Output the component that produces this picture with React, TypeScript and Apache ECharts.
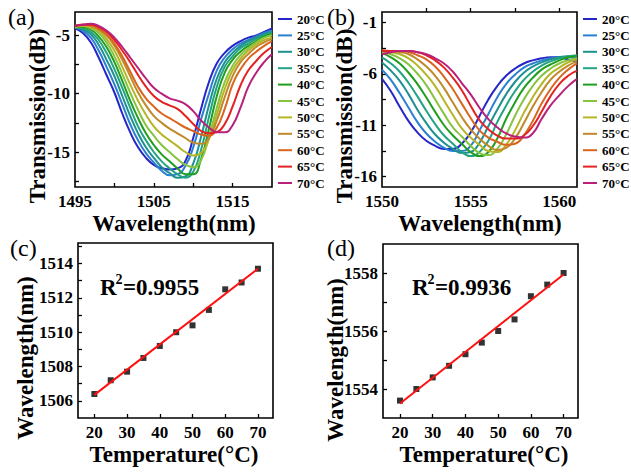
import React, { useEffect, useRef } from 'react';
import * as echarts from 'echarts';

const FONT = '"Liberation Serif", "Times New Roman", serif';

const temps = ['20°C', '25°C', '30°C', '35°C', '40°C', '45°C', '50°C', '55°C', '60°C', '65°C', '70°C'];
const colors = ['#2626c8', '#2a80d0', '#1e9090', '#22a384', '#1f9e1f', '#86c440', '#b5b526', '#c0892a', '#d9661f', '#e42222', '#b8207a'];

// Panel (a): wavelength grid 1495..1520 nm
const wlA = [1495, 1496, 1497, 1498, 1499, 1500, 1501, 1502, 1503, 1504, 1505, 1506, 1507, 1508, 1509, 1510, 1511, 1512, 1513, 1514, 1515, 1516, 1517, 1518, 1519, 1520];
const specA20 = [-4.4, -4.8, -5.6, -6.9, -8.4, -9.9, -11.7, -13.3, -14.6, -15.5, -16.1, -16.4, -16.5, -16.4, -15.8, -13.8, -11.3, -9.0, -7.4, -6.5, -5.9, -5.5, -5.2, -5.0, -4.7, -4.4];
const specA25 = [-4.3, -4.6, -5.2, -6.3, -7.7, -9.2, -10.9, -12.6, -14.0, -15.1, -15.9, -16.6, -17.0, -16.9, -16.2, -14.6, -12.2, -10.0, -8.0, -6.9, -6.2, -5.7, -5.4, -5.1, -4.8, -4.6];
const specA30 = [-4.3, -4.5, -4.9, -5.8, -7.1, -8.5, -10.2, -11.9, -13.4, -14.6, -15.5, -16.3, -16.8, -17.2, -17.1, -16.0, -13.7, -11.0, -8.7, -7.3, -6.5, -5.9, -5.5, -5.2, -4.9, -4.7];
const specA35 = [-4.3, -4.4, -4.7, -5.4, -6.5, -7.9, -9.5, -11.2, -12.8, -14.0, -15.0, -15.8, -16.4, -16.9, -17.2, -16.7, -14.8, -12.0, -9.4, -7.7, -6.8, -6.1, -5.7, -5.3, -5.0, -4.8];
const specA40 = [-4.3, -4.3, -4.5, -5.1, -6.0, -7.3, -8.9, -10.6, -12.1, -13.4, -14.4, -15.2, -15.8, -16.4, -16.9, -16.9, -15.6, -13.0, -10.2, -8.2, -7.1, -6.4, -5.9, -5.5, -5.1, -4.9];
const specA45 = [-4.3, -4.2, -4.4, -4.8, -5.6, -6.8, -8.3, -9.9, -11.4, -12.7, -13.6, -14.4, -15.0, -15.6, -16.1, -16.3, -15.7, -13.7, -11.2, -9.0, -7.6, -6.7, -6.1, -5.6, -5.2, -5.0];
const specA50 = [-4.3, -4.2, -4.3, -4.6, -5.3, -6.3, -7.7, -9.2, -10.6, -11.8, -12.8, -13.5, -14.0, -14.5, -15.0, -15.3, -15.1, -13.9, -11.8, -9.6, -8.0, -7.0, -6.3, -5.8, -5.4, -5.2];
const specA55 = [-4.2, -4.1, -4.2, -4.5, -5.0, -5.9, -7.1, -8.5, -9.9, -11.0, -11.9, -12.5, -13.0, -13.4, -13.8, -14.2, -14.3, -13.8, -12.3, -10.3, -8.5, -7.3, -6.6, -6.0, -5.6, -5.3];
const specA60 = [-4.2, -4.1, -4.1, -4.4, -4.9, -5.7, -6.8, -8.1, -9.4, -10.4, -11.1, -11.7, -12.1, -12.5, -12.9, -13.2, -13.5, -13.6, -12.9, -11.3, -9.2, -7.9, -7.0, -6.4, -5.9, -5.5];
const specA65 = [-4.2, -4.1, -4.1, -4.3, -4.7, -5.4, -6.3, -7.3, -8.4, -9.4, -10.2, -10.7, -11.0, -11.3, -11.9, -12.6, -13.2, -13.4, -13.3, -12.6, -11.1, -9.3, -8.0, -7.2, -6.5, -6.0];
const specA70 = [-4.2, -4.1, -4.0, -4.2, -4.6, -5.2, -6.0, -6.9, -7.8, -8.7, -9.5, -10.0, -10.4, -10.6, -10.9, -11.5, -12.3, -12.9, -13.3, -13.3, -12.7, -11.2, -9.4, -8.2, -7.3, -6.6];

// Panel (b): wavelength grid 1550..1561 nm
const wlB = [1550, 1550.5, 1551, 1551.5, 1552, 1552.5, 1553, 1553.5, 1554, 1554.5, 1555, 1555.5, 1556, 1556.5, 1557, 1557.5, 1558, 1558.5, 1559, 1559.5, 1560, 1560.5, 1561];
const specB20 = [-6.5, -7.7, -9.2, -10.6, -11.7, -12.5, -13.0, -13.3, -13.3, -12.8, -11.7, -10.1, -8.5, -7.2, -6.2, -5.5, -5.0, -4.7, -4.5, -4.4, -4.4, -4.6, -4.8];
const specB25 = [-5.6, -6.6, -7.9, -9.3, -10.7, -11.8, -12.6, -13.2, -13.5, -13.5, -13.0, -11.5, -9.9, -8.3, -7.0, -6.1, -5.4, -5.0, -4.7, -4.5, -4.4, -4.4, -4.5];
const specB30 = [-4.9, -5.7, -6.7, -8.0, -9.5, -10.8, -11.9, -12.7, -13.3, -13.7, -13.6, -12.7, -11.1, -9.5, -8.0, -6.8, -5.9, -5.3, -4.9, -4.6, -4.4, -4.3, -4.3];
const specB35 = [-4.4, -5.0, -5.8, -6.9, -8.2, -9.6, -10.9, -12.0, -12.8, -13.6, -14.0, -13.6, -12.5, -10.7, -9.1, -7.7, -6.6, -5.8, -5.2, -4.8, -4.5, -4.3, -4.2];
const specB40 = [-4.0, -4.4, -5.0, -5.9, -7.0, -8.3, -9.7, -11.0, -12.0, -12.8, -13.6, -14.0, -13.6, -12.3, -10.4, -8.8, -7.4, -6.4, -5.6, -5.1, -4.7, -4.4, -4.3];
const specB45 = [-3.9, -4.1, -4.5, -5.1, -6.0, -7.1, -8.5, -9.9, -11.2, -12.1, -13.0, -13.7, -13.9, -13.3, -11.9, -10.1, -8.5, -7.2, -6.2, -5.5, -5.0, -4.7, -4.5];
const specB50 = [-3.8, -3.9, -4.1, -4.5, -5.2, -6.1, -7.2, -8.6, -10.0, -11.3, -12.2, -12.9, -13.5, -13.6, -12.9, -11.5, -9.8, -8.3, -7.0, -6.0, -5.4, -4.9, -4.6];
const specB55 = [-3.8, -3.8, -3.9, -4.1, -4.6, -5.3, -6.2, -7.4, -8.8, -10.2, -11.4, -12.3, -13.0, -13.4, -13.2, -12.3, -10.8, -9.2, -7.8, -6.6, -5.8, -5.2, -4.8];
const specB60 = [-3.7, -3.8, -3.8, -3.9, -4.2, -4.6, -5.3, -6.3, -7.5, -8.9, -10.3, -11.5, -12.2, -12.6, -12.9, -12.8, -12.0, -10.6, -8.9, -7.5, -6.4, -5.6, -5.0];
const specB65 = [-3.8, -3.8, -3.8, -3.8, -3.9, -4.2, -4.7, -5.4, -6.4, -7.6, -9.1, -10.5, -11.4, -12.0, -12.3, -12.3, -12.0, -11.1, -9.7, -8.2, -7.0, -6.2, -5.7];
const specB70 = [-4.1, -3.9, -3.8, -3.8, -3.9, -4.1, -4.5, -5.0, -5.8, -6.9, -8.0, -9.3, -10.4, -11.2, -11.8, -12.1, -12.2, -11.8, -10.4, -9.1, -8.1, -7.2, -6.5];

// Panels (c), (d)
const tempValues = [20, 25, 30, 35, 40, 45, 50, 55, 60, 65, 70];
const peakA = [1506.4, 1507.2, 1507.7, 1508.5, 1509.2, 1510.0, 1510.4, 1511.3, 1512.5, 1512.9, 1513.7];
const peakB = [1553.6, 1554.0, 1554.4, 1554.8, 1555.2, 1555.6, 1556.0, 1556.4, 1557.2, 1557.6, 1558.0];
const fitA = [[20, 1506.35], [70, 1513.7]];
const fitB = [[20, 1553.5], [70, 1557.95]];

const specA = [specA20, specA25, specA30, specA35, specA40, specA45, specA50, specA55, specA60, specA65, specA70];
const specB = [specB20, specB25, specB30, specB35, specB40, specB45, specB50, specB55, specB60, specB65, specB70];

function axis(gridIndex: number, min: number, max: number, labels: number[], ticks: number[], margin: number) {
  return {
    type: 'value', gridIndex, min, max,
    axisLine: { show: false },
    splitLine: { show: false },
    axisTick: { show: true, inside: true, length: 4, customValues: ticks, lineStyle: { color: '#000', width: 1.3 } },
    axisLabel: {
      customValues: labels, color: '#000', fontFamily: FONT, fontWeight: 'bold', fontSize: 17, margin,
      formatter: (v: number) => String(v),
    },
  };
}

function txt(text: string, x: number, y: number, size: number, opts: any = {}) {
  return {
    type: 'text', x, y, rotation: opts.rotation || 0,
    style: {
      text, fill: '#000', fontFamily: FONT, fontWeight: opts.weight || 'bold', fontSize: size,
      textAlign: opts.align || 'center', textVerticalAlign: 'middle',
    },
  };
}

export default function App() {
  const ref = useRef<HTMLDivElement>(null);
  useEffect(() => {
    if (!ref.current) return;
    const chart = echarts.init(ref.current, undefined, { renderer: 'svg' });
    const series: any[] = [];
    temps.forEach((name, k) => {
      series.push({
        type: 'line', name, xAxisIndex: 0, yAxisIndex: 0,
        data: wlA.map((w, i) => [w, specA[k][i]]),
        smooth: true, symbol: 'none', showSymbol: false,
        lineStyle: { color: colors[k], width: 2 }, itemStyle: { color: colors[k] },
      });
    });
    temps.forEach((name, k) => {
      series.push({
        type: 'line', name, xAxisIndex: 1, yAxisIndex: 1,
        data: wlB.map((w, i) => [w, specB[k][i]]),
        smooth: true, symbol: 'none', showSymbol: false,
        lineStyle: { color: colors[k], width: 2 }, itemStyle: { color: colors[k] },
      });
    });
    series.push({
      type: 'line', name: 'fitA', xAxisIndex: 2, yAxisIndex: 2, data: fitA,
      symbol: 'none', lineStyle: { color: '#ff1010', width: 2 }, z: 3,
    });
    series.push({
      type: 'scatter', name: 'peakA', xAxisIndex: 2, yAxisIndex: 2,
      data: tempValues.map((t, i) => [t, peakA[i]]),
      symbol: 'rect', symbolSize: 6, itemStyle: { color: '#000' }, z: 2,
    });
    series.push({
      type: 'line', name: 'fitB', xAxisIndex: 3, yAxisIndex: 3, data: fitB,
      symbol: 'none', lineStyle: { color: '#ff1010', width: 2 }, z: 3,
    });
    series.push({
      type: 'scatter', name: 'peakB', xAxisIndex: 3, yAxisIndex: 3,
      data: tempValues.map((t, i) => [t, peakB[i]]),
      symbol: 'rect', symbolSize: 6, itemStyle: { color: '#000' }, z: 2,
    });

    const legendBase = {
      data: temps, orient: 'vertical', top: 12, itemWidth: 14, itemHeight: 2, itemGap: 2.4,
      icon: 'rect', selectedMode: false,
      textStyle: { fontFamily: FONT, fontWeight: 'bold', fontSize: 13, color: '#000', lineHeight: 14 },
      padding: 0,
    };

    chart.setOption({
      animation: false,
      backgroundColor: '#fff',
      grid: [
        { left: 75, top: 12, width: 197, height: 175, show: true, borderColor: '#000', borderWidth: 1.6, backgroundColor: 'transparent' },
        { left: 382, top: 12, width: 195, height: 175, show: true, borderColor: '#000', borderWidth: 1.6, backgroundColor: 'transparent' },
        { left: 78, top: 243, width: 195, height: 175, show: true, borderColor: '#000', borderWidth: 1.6, backgroundColor: 'transparent' },
        { left: 383, top: 244, width: 195, height: 174, show: true, borderColor: '#000', borderWidth: 1.6, backgroundColor: 'transparent' },
      ],
      xAxis: [
        axis(0, 1495, 1520, [1495, 1505, 1515], [1500, 1505, 1510, 1515], 6),
        axis(1, 1550, 1561, [1550, 1555, 1560], [1552.5, 1555, 1557.5, 1560], 6),
        axis(2, 15, 74.6, [20, 30, 40, 50, 60, 70], [20, 30, 40, 50, 60, 70], 6),
        axis(3, 14.8, 74.4, [20, 30, 40, 50, 60, 70], [20, 30, 40, 50, 60, 70], 6),
      ],
      yAxis: [
        axis(0, -18, -3, [-15, -10, -5], [-17.5, -15, -12.5, -10, -7.5, -5], 5),
        axis(1, -17, 0, [-16, -11, -6, -1], [-16, -13.5, -11, -8.5, -6, -3.5, -1], 5),
        axis(2, 1505, 1515.2, [1506, 1508, 1510, 1512, 1514], [1506, 1507, 1508, 1509, 1510, 1511, 1512, 1513, 1514, 1515], 5),
        axis(3, 1553, 1559, [1554, 1556, 1558], [1554, 1555, 1556, 1557, 1558], 5),
      ],
      legend: [
        { ...legendBase, left: 278 },
        { ...legendBase, left: 583 },
      ],
      series,
      graphic: [
        txt('(a)', 8, 17, 24, { weight: 'normal', align: 'left' }),
        txt('(b)', 327, 17, 24, { weight: 'normal', align: 'left' }),
        txt('(c)', 10, 248, 24, { weight: 'normal', align: 'left' }),
        txt('(d)', 327, 248, 24, { weight: 'normal', align: 'left' }),
        txt('Transmission(dB)', 37, 116, 23, { rotation: Math.PI / 2 }),
        txt('Transmission(dB)', 344, 116, 23, { rotation: Math.PI / 2 }),
        txt('Wavelength(nm)', 25, 358, 23, { rotation: Math.PI / 2 }),
        txt('Wavelength(nm)', 335, 360, 23, { rotation: Math.PI / 2 }),
        txt('Wavelength(nm)', 174, 223, 23),
        txt('Wavelength(nm)', 480, 223, 23),
        txt('Temperature(°C)', 174, 454, 23),
        txt('Temperature(°C)', 484, 454, 23),
        txt('R', 100, 287, 23, { align: 'left' }),
        txt('2', 115.5, 279, 14, { align: 'left' }),
        txt('=0.9955', 123, 287, 23, { align: 'left' }),
        txt('R', 412, 287, 23, { align: 'left' }),
        txt('2', 427.5, 279, 14, { align: 'left' }),
        txt('=0.9936', 435, 287, 23, { align: 'left' }),
      ],
    });
    return () => chart.dispose();
  }, []);
  return <div ref={ref} style={{ position: 'absolute', left: 0, top: 0, width: 631, height: 472 }} />;
}
